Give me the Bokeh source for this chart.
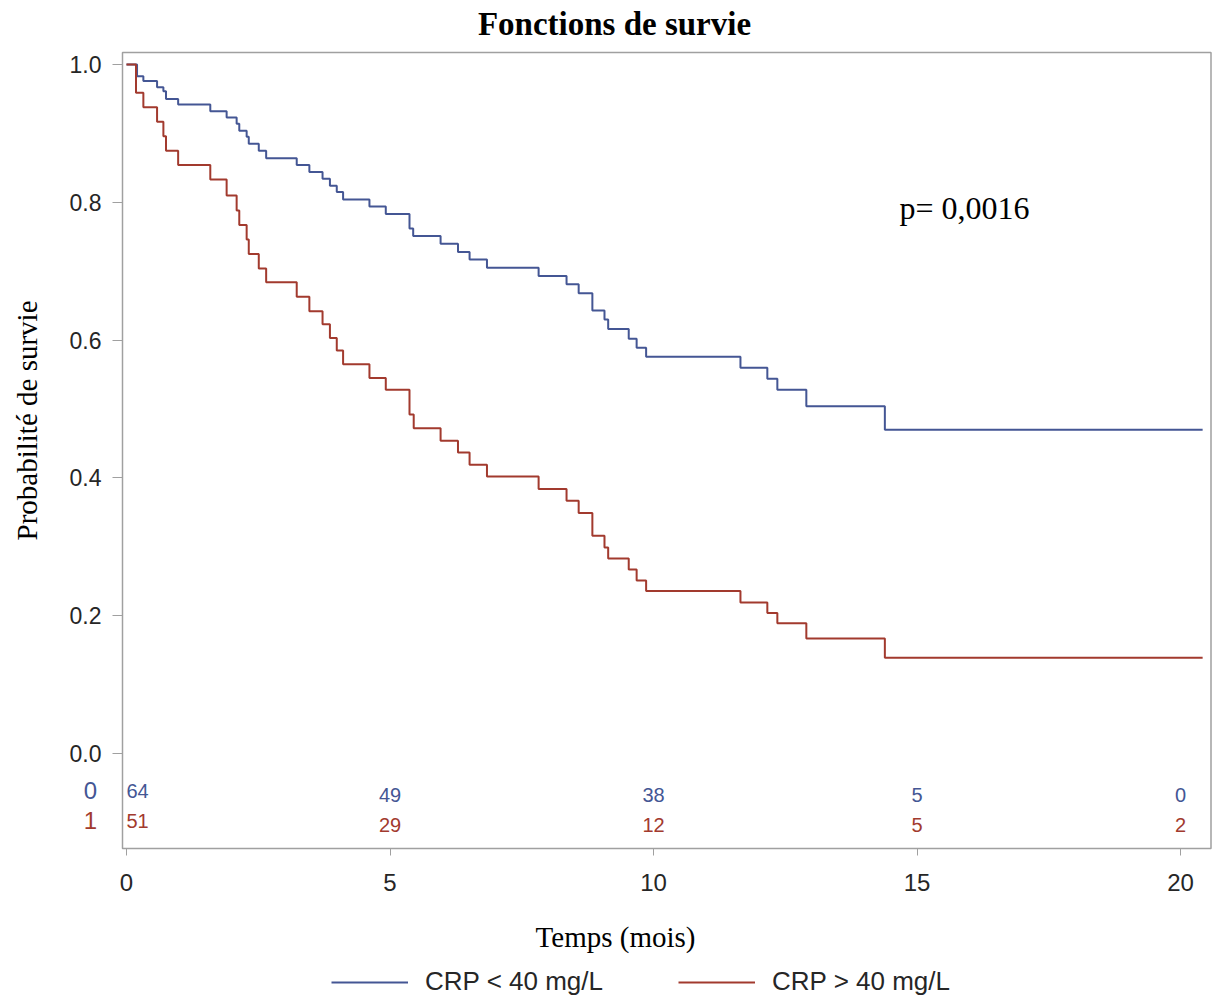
from bokeh.plotting import figure
from bokeh.models import (Range1d, FixedTicker, PrintfTickFormatter, Label,
                          Legend, LegendItem, ColumnDataSource, BoxAnnotation)
from bokeh.core.properties import value
from bokeh.embed import file_html
from bokeh.resources import INLINE
import math

# ---------------- data ----------------
time_low = [0.0, 0.20, 0.32, 0.58, 0.70, 0.75, 0.98, 1.59, 1.90, 2.09, 2.14,
            2.28, 2.32, 2.51, 2.65, 3.23, 3.47, 3.72, 3.86, 3.99, 4.11, 4.61,
            4.92, 5.37, 5.44, 5.96, 6.29, 6.51, 6.84, 7.82, 8.35, 8.58, 8.84,
            9.07, 9.14, 9.53, 9.68, 9.86, 11.65, 12.16, 12.35, 12.90, 14.39,
            20.42]
surv_low = [1.0, 0.983, 0.976, 0.967, 0.961, 0.950, 0.942, 0.932, 0.923,
            0.914, 0.904, 0.895, 0.885, 0.875, 0.864, 0.854, 0.844, 0.834,
            0.824, 0.815, 0.804, 0.794, 0.783, 0.762, 0.751, 0.740, 0.728,
            0.717, 0.705, 0.693, 0.681, 0.668, 0.643, 0.630, 0.616, 0.602,
            0.589, 0.576, 0.560, 0.544, 0.528, 0.504, 0.470, 0.470]

time_high = [0.0, 0.18, 0.32, 0.58, 0.70, 0.75, 0.98, 1.59, 1.90, 2.09, 2.14,
             2.28, 2.32, 2.51, 2.65, 3.23, 3.47, 3.72, 3.86, 3.99, 4.11, 4.61,
             4.92, 5.37, 5.45, 5.96, 6.29, 6.51, 6.84, 7.82, 8.35, 8.58, 8.84,
             9.07, 9.14, 9.53, 9.68, 9.86, 11.65, 12.16, 12.35, 12.90, 14.39,
             20.42]
surv_high = [1.0, 0.959, 0.938, 0.917, 0.896, 0.875, 0.854, 0.833, 0.810,
             0.788, 0.767, 0.746, 0.725, 0.704, 0.684, 0.663, 0.642, 0.623,
             0.603, 0.585, 0.565, 0.545, 0.528, 0.492, 0.472, 0.454, 0.437,
             0.419, 0.402, 0.384, 0.367, 0.349, 0.316, 0.299, 0.283, 0.267,
             0.251, 0.236, 0.219, 0.204, 0.189, 0.167, 0.139, 0.139]

risk_times = [0, 5, 10, 15, 20]
risk_low = [64, 49, 38, 5, 0]
risk_high = [51, 29, 12, 5, 2]
risk_groups = ["0", "1"]
series_names = ["CRP < 40 mg/L", "CRP > 40 mg/L"]
x_ticks = [0, 5, 10, 15, 20]
y_ticks = [0.0, 0.2, 0.4, 0.6, 0.8, 1.0]
title_text = "Fonctions de survie"
x_label = "Temps (mois)"
y_label = "Probabilité de survie"
p_value_text = "p= 0,0016"

# ---------------- layout / style ----------------
BLUE = "#445694"
RED = "#A23A2E"
SANS = "Liberation Sans"
SERIF = "Liberation Serif"
FRAME_GRAY = "#A0A0A0"
TXT = "#262626"

W, H = 1212, 995
PX_PER_X = 52.7          # pixels per month
PX_PER_Y = 689.0         # pixels per unit of probability
X0_PX, Y0_PX = 126.0, 753.0   # pixel position of (0, 0)

def xd(px):
    return (px - X0_PX) / PX_PER_X

def yd(py):
    return (Y0_PX - py) / PX_PER_Y

p = figure(width=W, height=H, output_backend="svg", toolbar_location=None,
           x_range=Range1d(xd(0), xd(W)), y_range=Range1d(yd(H), yd(0)),
           min_border_left=0, min_border_right=0, min_border_top=0,
           min_border_bottom=0, title=None,
           background_fill_color="white", border_fill_color="white")
p.outline_line_color = None
p.xgrid.visible = False
p.ygrid.visible = False

# plot box (the area that holds curves and the at-risk table)
box_left, box_right, box_top, box_bottom = xd(122), xd(1210.5), yd(52), yd(848)
p.add_layout(BoxAnnotation(left=box_left, right=box_right, top=box_top,
                           bottom=box_bottom, fill_alpha=0, line_alpha=1.0,
                           line_color=FRAME_GRAY, line_width=1.5))

# axes fixed on the box edges
xa = p.xaxis[0]
xa.fixed_location = box_bottom
xa.ticker = FixedTicker(ticks=x_ticks)
xa.axis_line_color = None
xa.major_tick_out = 7
xa.major_tick_in = 0
xa.minor_tick_out = 0
xa.minor_tick_in = 0
xa.major_tick_line_color = FRAME_GRAY
xa.major_label_text_font = SANS
xa.major_label_text_font_size = "24px"
xa.major_label_text_color = TXT
xa.major_label_standoff = 18

ya = p.yaxis[0]
ya.fixed_location = box_left
ya.ticker = FixedTicker(ticks=y_ticks)
ya.formatter = PrintfTickFormatter(format="%.1f")
ya.axis_line_color = None
ya.major_tick_out = 10
ya.major_tick_in = 0
ya.minor_tick_out = 0
ya.minor_tick_in = 0
ya.major_tick_line_color = FRAME_GRAY
ya.major_label_text_font = SANS
ya.major_label_text_font_size = "23px"
ya.major_label_text_color = TXT
ya.major_label_standoff = 11

# survival curves
r_low = p.step(time_low, surv_low, mode="after", line_color=BLUE, line_width=2)
r_high = p.step(time_high, surv_high, mode="after", line_color=RED, line_width=2)

# number at risk table
row_y = [yd(794), yd(824)]
for row, (counts, color) in enumerate([(risk_low, BLUE), (risk_high, RED)]):
    y_row = row_y[row]
    src_first = ColumnDataSource(dict(x=risk_times[:1], y=[y_row + 0.005],
                                      t=[str(c) for c in counts[:1]]))
    src_rest = ColumnDataSource(dict(x=risk_times[1:], y=[y_row] * (len(counts) - 1),
                                     t=[str(c) for c in counts[1:]]))
    p.text(x="x", y="y", text="t", source=src_first, text_align="left",
           text_baseline="middle", text_color=color, text_font=value(SANS),
           text_font_size="20px")
    p.text(x="x", y="y", text="t", source=src_rest, text_align="center",
           text_baseline="middle", text_color=color, text_font=value(SANS),
           text_font_size="20px")
    p.add_layout(Label(x=xd(90), y=y_row + 0.006, text=risk_groups[row],
                       text_align="center", text_baseline="middle",
                       text_color=color, text_font=SANS, text_font_size="24px"))

# title
p.add_layout(Label(x=xd(614), y=yd(23), text=title_text, text_align="center",
                   text_baseline="middle", text_color="black", text_font=SERIF,
                   text_font_style="bold", text_font_size="33px"))

# p-value
p.add_layout(Label(x=xd(899), y=yd(207), text=p_value_text, text_align="left",
                   text_baseline="middle", text_color="black", text_font=SERIF,
                   text_font_size="32px"))

# axis titles
p.add_layout(Label(x=xd(26), y=yd(420), text=y_label, angle=math.pi / 2,
                   text_align="center", text_baseline="middle", text_color="black",
                   text_font=SERIF, text_font_size="29px"))
p.add_layout(Label(x=xd(615), y=yd(936), text=x_label, text_align="center",
                   text_baseline="middle", text_color="black", text_font=SERIF,
                   text_font_size="29px"))

# legend
legend = Legend(items=[LegendItem(label=series_names[0], renderers=[r_low]),
                       LegendItem(label=series_names[1], renderers=[r_high])],
                orientation="horizontal", location=(331, -2),
                label_text_font=SANS, label_text_font_size="26px",
                label_text_color=TXT, glyph_width=77, glyph_height=20,
                label_standoff=17, spacing=75, padding=0, margin=0,
                border_line_color=None, background_fill_alpha=0)
p.add_layout(legend, "center")

open("out.html", "w").write(file_html(p, INLINE))
